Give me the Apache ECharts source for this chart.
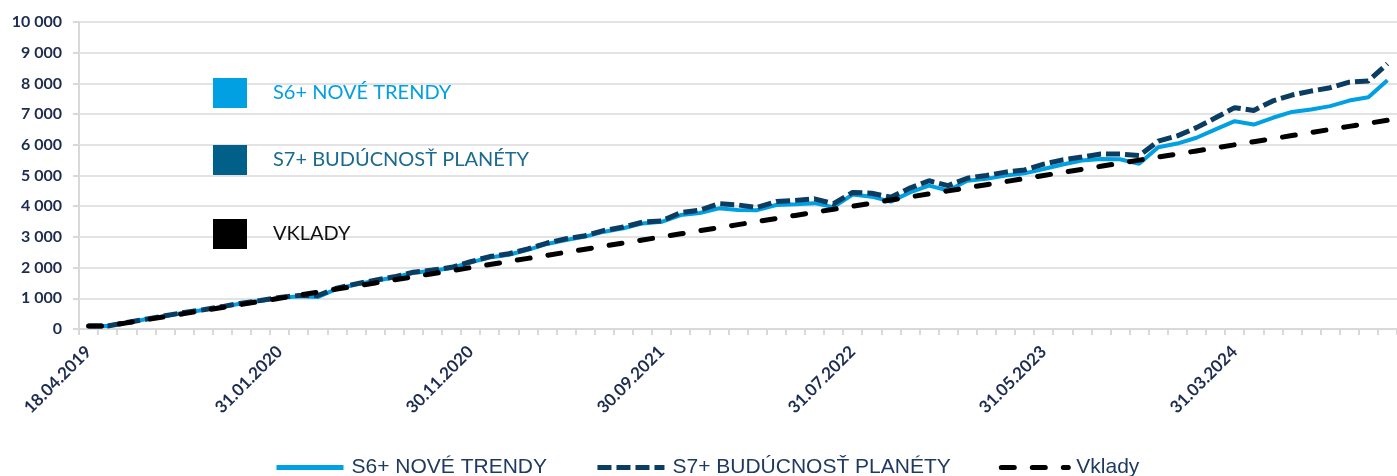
<!DOCTYPE html>
<html>
<head>
<meta charset="utf-8">
<title>S6+ / S7+ vs Vklady</title>
<script src="https://cdn.jsdelivr.net/npm/echarts@6/dist/echarts.min.js"></script>
<style>
  html, body { margin: 0; padding: 0; background: #fff; }
  #chart { width: 1397px; height: 476px; }
</style>
</head>
<body>
<div id="chart"></div>
<script>
const dates = [
  "18.04.2019",
  "30.04.2019", "31.05.2019", "30.06.2019", "31.07.2019", "31.08.2019", "30.09.2019", "31.10.2019", "30.11.2019", "31.12.2019",
  "31.01.2020", "29.02.2020", "31.03.2020", "30.04.2020", "31.05.2020", "30.06.2020", "31.07.2020", "31.08.2020", "30.09.2020", "31.10.2020",
  "30.11.2020", "31.12.2020", "31.01.2021", "28.02.2021", "31.03.2021", "30.04.2021", "31.05.2021", "30.06.2021", "31.07.2021", "31.08.2021",
  "30.09.2021", "31.10.2021", "30.11.2021", "31.12.2021", "31.01.2022", "28.02.2022", "31.03.2022", "30.04.2022", "31.05.2022", "30.06.2022",
  "31.07.2022", "31.08.2022", "30.09.2022", "31.10.2022", "30.11.2022", "31.12.2022", "31.01.2023", "28.02.2023", "31.03.2023", "30.04.2023",
  "31.05.2023", "30.06.2023", "31.07.2023", "31.08.2023", "30.09.2023", "31.10.2023", "30.11.2023", "31.12.2023", "31.01.2024", "29.02.2024",
  "31.03.2024", "30.04.2024", "31.05.2024", "30.06.2024", "31.07.2024", "31.08.2024", "30.09.2024", "31.10.2024", "30.11.2024",
];

const s6Values = [
  100, 100, 210, 320, 420, 530, 620, 720, 830, 920,
  1010, 1070, 1040, 1310, 1450, 1570, 1680, 1830, 1900, 1990,
  2170, 2330, 2420, 2580, 2770, 2900, 3010, 3170, 3280, 3440,
  3490, 3710, 3780, 3930, 3880, 3870, 4040, 4060, 4100, 3970,
  4380, 4310, 4150, 4450, 4670, 4510, 4830, 4890, 5000, 5070,
  5210, 5360, 5490, 5540, 5530, 5380, 5920, 6040, 6230, 6500,
  6770, 6660, 6880, 7070, 7150, 7260, 7440, 7550, 8100,
];

const s7Values = [
  100, 100, 210, 320, 430, 540, 630, 730, 840, 930,
  1030, 1090, 1090, 1330, 1470, 1590, 1700, 1850, 1920, 2010,
  2190, 2360, 2450, 2610, 2800, 2940, 3040, 3210, 3320, 3480,
  3520, 3790, 3870, 4080, 4040, 3960, 4150, 4190, 4240, 4080,
  4450, 4420, 4290, 4590, 4830, 4670, 4910, 5000, 5110, 5180,
  5370, 5510, 5600, 5700, 5700, 5650, 6120, 6290, 6560, 6880,
  7210, 7120, 7430, 7620, 7750, 7860, 8040, 8080, 8640,
];

const depositValues = [
  100, 100, 200, 300, 400, 500, 600, 700, 800, 900,
  1000, 1100, 1200, 1300, 1400, 1500, 1600, 1700, 1800, 1900,
  2000, 2100, 2200, 2300, 2400, 2500, 2600, 2700, 2800, 2900,
  3000, 3100, 3200, 3300, 3400, 3500, 3600, 3700, 3800, 3900,
  4000, 4100, 4200, 4300, 4400, 4500, 4600, 4700, 4800, 4900,
  5000, 5100, 5200, 5300, 5400, 5500, 5600, 5700, 5800, 5900,
  6000, 6100, 6200, 6300, 6400, 6500, 6600, 6700, 6800,
];

const seriesNames = ["S6+ NOVÉ TRENDY", "S7+ BUDÚCNOSŤ PLANÉTY", "Vklady"];
const boxLabels = ["S6+ NOVÉ TRENDY", "S7+ BUDÚCNOSŤ PLANÉTY", "VKLADY"];

const palette = {
  s6: "#00a0e3",
  s7: "#0b3c61",
  s7Box: "#00608a",
  s7Text: "#1a6a91",
  deposit: "#000000",
  axisText: "#1c2b4f",
  legendText: "#1f3a60",
  grid: "#e3e3e3",
  axis: "#d9d9d9",
};

function formatThousands(value) {
  return String(value).replace(/\B(?=(\d{3})+(?!\d))/g, " ");
}

// legend boxes in the upper left corner of the plot
function boxLegend(name, label, top, boxColor, textColor) {
  return {
    show: true,
    selectedMode: false,
    left: 208,
    top: top,
    icon: "rect",
    itemWidth: 34,
    itemHeight: 30,
    formatter: () => label,
    textStyle: {
      color: textColor,
      fontFamily: "Lato, 'Open Sans', sans-serif",
      fontSize: 20,
      padding: [0, 0, 0, 21],
    },
    data: [{ name: name, itemStyle: { color: boxColor, borderWidth: 0 } }],
  };
}

const chart = echarts.init(document.getElementById("chart"));

chart.setOption({
  animation: false,
  backgroundColor: "#ffffff",
  grid: { left: 79, top: 22, width: 1322, height: 307, containLabel: false },
  legend: [
    boxLegend(seriesNames[0], boxLabels[0], 73, palette.s6, palette.s6),
    boxLegend(seriesNames[1], boxLabels[1], 140, palette.s7Box, palette.s7Text),
    boxLegend(seriesNames[2], boxLabels[2], 214, "#000000", "#111111"),
    {
      show: true,
      selectedMode: false,
      left: 269,
      top: 452,
      itemWidth: 67,
      itemHeight: 20,
      itemGap: 48,
      itemStyle: { opacity: 0, borderWidth: 0 },
      textStyle: {
        color: palette.legendText,
        fontFamily: "'Liberation Sans', Arial, sans-serif",
        fontSize: 21,
        padding: [0, 0, 0, 3],
      },
      lineStyle: { width: 5 },
      data: seriesNames,
    },
  ],
  xAxis: {
    type: "category",
    data: dates,
    boundaryGap: true,
    axisLine: { lineStyle: { color: palette.axis, width: 2 } },
    axisTick: { show: true, interval: 0, length: 6, lineStyle: { color: palette.axis, width: 2 } },
    axisLabel: {
      interval: 9,
      rotate: 45,
      margin: 20,
      color: palette.axisText,
      fontFamily: "Lato, 'Open Sans', sans-serif",
      fontWeight: "bold",
      fontSize: 17,
    },
    splitLine: { show: false },
  },
  yAxis: {
    type: "value",
    min: 0,
    max: 10000,
    interval: 1000,
    axisLine: { show: true, lineStyle: { color: palette.axis, width: 2 } },
    axisTick: { show: true, length: 6, lineStyle: { color: palette.axis, width: 2 } },
    axisLabel: {
      margin: 17,
      color: palette.axisText,
      fontFamily: "Lato, 'Open Sans', sans-serif",
      fontWeight: "bold",
      fontSize: 16,
      formatter: (value) => formatThousands(value),
    },
    splitLine: { lineStyle: { color: palette.grid, width: 2 } },
  },
  series: [
    {
      name: seriesNames[0],
      type: "line",
      data: s6Values,
      symbol: "none",
      color: palette.s6,
      lineStyle: { color: palette.s6, width: 4 },
      z: 2,
    },
    {
      name: seriesNames[1],
      type: "line",
      data: s7Values,
      symbol: "none",
      color: palette.s7,
      lineStyle: { color: palette.s7, width: 5, type: [14, 5] },
      z: 3,
    },
    {
      name: seriesNames[2],
      type: "line",
      data: depositValues,
      symbol: "none",
      color: palette.deposit,
      lineStyle: { color: palette.deposit, width: 5, type: [13, 18], cap: "round" },
      z: 4,
    },
  ],
});
</script>
</body>
</html>
